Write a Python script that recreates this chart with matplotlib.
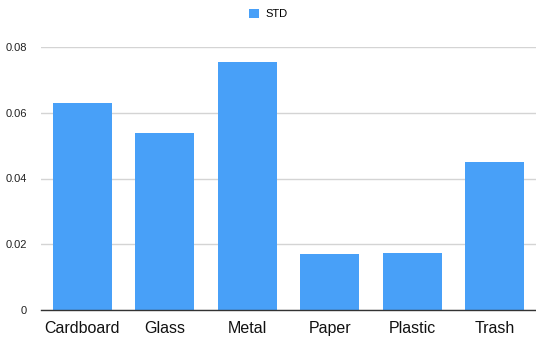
import matplotlib
matplotlib.use("Agg")
import matplotlib.pyplot as plt
from matplotlib.patches import Patch

categories = ["Cardboard", "Glass", "Metal", "Paper", "Plastic", "Trash"]
std_values = [0.0630, 0.0538, 0.0755, 0.0170, 0.0172, 0.0450]
y_ticks = [0, 0.02, 0.04, 0.06, 0.08]
y_tick_labels = ["0", "0.02", "0.04", "0.06", "0.08"]

plt.rcParams["font.family"] = ["Liberation Sans", "DejaVu Sans"]

bar_color = "#48a0f8"

fig = plt.figure(figsize=(5.36, 3.42), dpi=100)
ax = fig.add_axes([41 / 536, 1 - 310 / 342, 1 - 41 / 536, (310 - 47) / 342])

x = range(len(categories))
ax.bar(x, std_values, width=0.71, color=bar_color, zorder=3)

ax.set_xlim(-0.5, len(categories) - 0.5)
ax.set_ylim(0, 0.08)
ax.set_yticks(y_ticks)
ax.set_yticklabels(y_tick_labels, fontsize=8, color="#222222")
ax.set_xticks(list(x))
ax.set_xticklabels(categories, fontsize=11.5, color="#111111")
ax.tick_params(axis="both", length=0)
ax.tick_params(axis="y", pad=10)
ax.tick_params(axis="x", pad=8)

ax.grid(axis="y", color="#d4d4d4", linewidth=1.0, zorder=0)
for side in ["top", "right", "left"]:
    ax.spines[side].set_visible(False)
ax.spines["bottom"].set_color("#333333")
ax.spines["bottom"].set_linewidth(1.0)
ax.spines["bottom"].set_zorder(4)

handles = [Patch(facecolor=bar_color, edgecolor="none", label="STD")]
fig.legend(handles=handles, loc="center", bbox_to_anchor=(0.5, 1 - 14 / 342),
           frameon=False, fontsize=8, handlelength=0.9, handleheight=0.9,
           handletextpad=0.6)

fig.savefig("out.png", dpi=100)
